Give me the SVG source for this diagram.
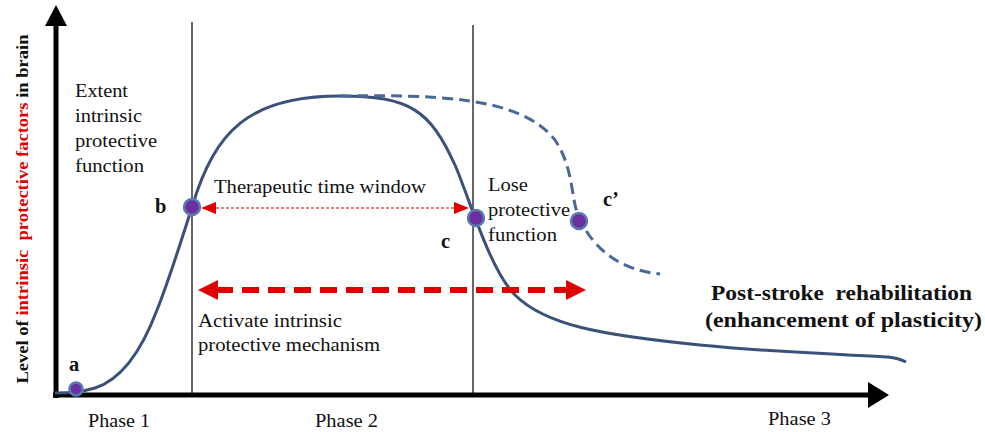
<svg xmlns="http://www.w3.org/2000/svg" width="985" height="432" viewBox="0 0 985 432">
<style>
text{font-family:"Liberation Serif",serif;fill:#111}
.t{font-size:18px}
.b{font-weight:bold;font-size:20.5px}
.pt{fill:#6b2fa0;stroke:#5a7bb0;stroke-width:2.5}
.curve{fill:none;stroke:#3a5279;stroke-width:3}
.dash{stroke:#4a6896}
.red{fill:#e00000}
</style>
<g id="axes">
<line x1="56" y1="22" x2="56" y2="398" stroke="#000" stroke-width="5"/>
<path d="M45,26L56,5L67,26z" fill="#000"/>
<line x1="53" y1="395" x2="872" y2="395" stroke="#000" stroke-width="5"/>
<path d="M868,382L889,395L868,408z" fill="#000"/>
</g>
<g id="phase-lines" stroke="#000" stroke-width="1.2">
<line x1="192" y1="22" x2="192" y2="393"/>
<line x1="473" y1="25" x2="473" y2="393"/>
</g>
<g id="connectors">
<path class="curve" d="M55,393 C70,393 82,392 95,388 C120,380 140,355 157,310 C169,280 180,245 192,207 C215,130 250,96 340,96 C410,96 430,110 455,165 C470,200 490,270 515,295 C545,325 600,335 700,345 C780,353 860,355 888,357 C897,358 902,360 906,362"/>
<path class="curve dash" stroke-dasharray="11,6" d="M340,96 C430,95 520,95 555,140 C575,170 570,200 580,220 C595,250 620,270 660,274"/>
<line x1="206" y1="208" x2="463" y2="208" stroke="#e00000" stroke-width="1.2" stroke-dasharray="3,2"/>
<path class="red" d="M201,208L216,202L216,214z"/>
<path class="red" d="M469,208L454,202L454,214z"/>
<line x1="216" y1="290" x2="570" y2="290" stroke="#e00000" stroke-width="6" stroke-dasharray="17,9"/>
<path class="red" d="M198,290L218,280L218,300z"/>
<path class="red" d="M586,290L566,280L566,300z"/>
</g>
<g id="point-a"><circle class="pt" cx="76" cy="389" r="6.5"/><text class="b" x="69" y="371">a</text></g>
<g id="point-b"><circle class="pt" cx="192" cy="207" r="8"/><text class="b" x="155" y="213">b</text></g>
<g id="point-c"><circle class="pt" cx="476" cy="218" r="8"/><text class="b" x="441" y="248">c</text></g>
<g id="point-c2"><circle class="pt" cx="579" cy="221" r="8"/><text class="b" x="603" y="206">c’</text></g>
<g id="labels">
<text class="t" x="75" y="97" textLength="53" lengthAdjust="spacingAndGlyphs">Extent</text>
<text class="t" x="75" y="122" textLength="67" lengthAdjust="spacingAndGlyphs">intrinsic</text>
<text class="t" x="75" y="147" textLength="82" lengthAdjust="spacingAndGlyphs">protective</text>
<text class="t" x="75" y="172" textLength="69" lengthAdjust="spacingAndGlyphs">function</text>
<text class="t" x="214" y="193" textLength="212" lengthAdjust="spacingAndGlyphs">Therapeutic time window</text>
<text class="t" x="488" y="191" textLength="40" lengthAdjust="spacingAndGlyphs">Lose</text>
<text class="t" x="488" y="216" textLength="82" lengthAdjust="spacingAndGlyphs">protective</text>
<text class="t" x="488" y="241" textLength="69" lengthAdjust="spacingAndGlyphs">function</text>
<text class="t" x="198" y="327" textLength="144" lengthAdjust="spacingAndGlyphs">Activate intrinsic</text>
<text class="t" x="198" y="351" textLength="182" lengthAdjust="spacingAndGlyphs">protective mechanism</text>
<text class="b" x="711" y="300" textLength="261" lengthAdjust="spacingAndGlyphs" xml:space="preserve">Post-stroke  rehabilitation</text>
<text class="b" x="705" y="327" textLength="277" lengthAdjust="spacingAndGlyphs">(enhancement of plasticity)</text>
<text class="t" x="88" y="427" textLength="62" lengthAdjust="spacingAndGlyphs">Phase 1</text>
<text class="t" x="315" y="427" textLength="63" lengthAdjust="spacingAndGlyphs">Phase 2</text>
<text class="t" x="768" y="425" textLength="63" lengthAdjust="spacingAndGlyphs">Phase 3</text>
<text transform="translate(28,209) rotate(-90)" text-anchor="middle" font-weight="bold" font-size="17" textLength="349" lengthAdjust="spacingAndGlyphs" xml:space="preserve">Level of <tspan fill="#e00000">intrinsic  protective factors</tspan> in brain</text>
</g>
</svg>
